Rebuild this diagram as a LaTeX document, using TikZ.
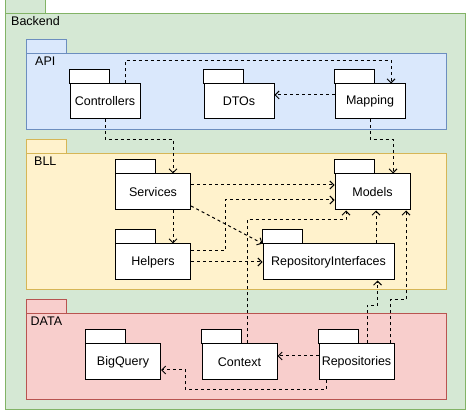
\documentclass[tikz,border=0pt]{standalone}
\usepackage{fontspec}
\setmainfont{Liberation Sans}
\usetikzlibrary{arrows.meta}
\definecolor{bkfill}{HTML}{D5E8D4}\definecolor{bkline}{HTML}{82B366}
\definecolor{apifill}{HTML}{DAE8FC}\definecolor{apiline}{HTML}{6C8EBF}
\definecolor{bllfill}{HTML}{FFF2CC}\definecolor{bllline}{HTML}{D6B656}
\definecolor{datafill}{HTML}{F8CECC}\definecolor{dataline}{HTML}{B85450}
\begin{document}
\begin{tikzpicture}[x=1pt,y=-1pt,
  every node/.style={font=\fontsize{12.5}{15}\selectfont},
  pkg/.style={draw=black, fill=white, line width=1pt, inner sep=0pt, minimum height=36pt, minimum width=75pt},
  tabbox/.style={draw=black, fill=white, line width=1pt},
  dep/.style={line width=1pt, dash pattern=on 3pt off 3pt, -{Straight Barb[length=4pt,width=8pt]}},
  grp/.style={line width=1pt},
  grplabel/.style={anchor=west, inner sep=0pt}]
\useasboundingbox (0,0) rectangle (466,411);
% Backend
\draw[grp, draw=bkline, fill=bkfill] (5,0) rectangle (45,14);
\draw[grp, draw=bkline, fill=bkfill] (5,14) rectangle (465,410);
\node[grplabel] (lbk) at (11,21) {Backend};
% API
\draw[grp, draw=apiline, fill=apifill] (26,40) rectangle (66,54);
\draw[grp, draw=apiline, fill=apifill] (26,54) rectangle (446,130);
\node[grplabel] (lapi) at (35,61.5) {API};
% BLL
\draw[grp, draw=bllline, fill=bllfill] (26,140) rectangle (66,154);
\draw[grp, draw=bllline, fill=bllfill] (26,154) rectangle (446,290);
\node[grplabel] (lbll) at (34,161) {BLL};
% DATA
\draw[grp, draw=dataline, fill=datafill] (26,300) rectangle (66,314);
\draw[grp, draw=dataline, fill=datafill] (26,314) rectangle (446,400);
\node[grplabel] (ldata) at (30.5,321) {DATA};
% packages
\node[pkg, minimum width=70pt, minimum height=35pt] (ctrl) at (105,101.5) {Controllers};
\node[pkg, minimum width=70pt, minimum height=35pt] (dtos) at (239,101.5) {DTOs};
\node[pkg, minimum width=70pt, minimum height=35pt] (map) at (370,101.5) {Mapping};
\node[pkg] (serv) at (153,192) {Services};
\node[pkg] (models) at (372.5,192) {Models};
\node[pkg] (help) at (153,262) {Helpers};
\node[pkg, minimum width=131pt] (repoint) at (328.5,262) {RepositoryInterfaces};
\node[pkg] (bigq) at (123,362) {BigQuery};
\node[pkg] (ctx) at (239.5,362) {Context};
\node[pkg] (repos) at (356.5,362) {Repositories};
\foreach \n in {ctrl,dtos,map,serv,models,help,repoint,bigq,ctx,repos}
  \draw[tabbox] (\n.north west) rectangle ++(40,-13.5);
% connectors
\draw[dep] (ctrl.north -| 125,0) |- (391,61) -- (map.north -| 391,0);
\draw[dep] (map.west |- 0,95) -- (dtos.east |- 0,95);
\draw[dep] (ctrl.south) |- (173,140) -- (serv.north -| 173,0);
\draw[dep] (map.south) |- (393,140) -- (models.north -| 393,0);
\draw[dep] (serv.east |- 0,185) -- (models.west |- 0,185);
\draw[dep] (serv.south -| 173,0) -- (help.north -| 173,0);
\draw[dep] (serv.east |- 0,206) -- (repoint.north west);
\draw[dep] (help.east |- 0,251) -| (225,200) -- (models.west |- 0,200);
\draw[dep] (help.east |- 0,262) -- (repoint.west |- 0,262);
\draw[dep] (ctx.north -| 247,0) |- (346,220) -- (models.south -| 346,0);
\draw[dep] (repoint.north -| 376,0) -- (models.south -| 376,0);
\draw[dep] (repos.north -| 367,0) |- (377.5,305.5) -- (repoint.south -| 377.5,0);
\draw[dep] (repos.north -| 390,0) |- (406,300) -- (models.south -| 406,0);
\draw[dep] (repos.west |- 0,356) -- (ctx.east |- 0,356);
\draw[dep] (repos.south -| 326,0) |- (185,390) |- (bigq.east |- 0,370);
\end{tikzpicture}
\end{document}
